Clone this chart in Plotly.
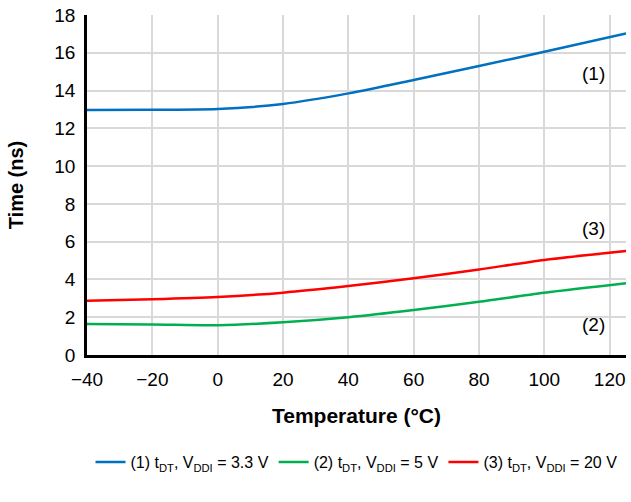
import plotly.graph_objects as go

temps = [-40, -20, 0, 20, 40, 60, 80, 100, 125]
t_33v = [12.97, 12.98, 13.02, 13.29, 13.85, 14.56, 15.3, 16.05, 17.02]
t_5v = [1.64, 1.62, 1.58, 1.73, 2.0, 2.38, 2.82, 3.3, 3.8]
t_20v = [2.87, 2.95, 3.07, 3.3, 3.65, 4.06, 4.53, 5.03, 5.5]

names = [
    "(1) t<sub>DT</sub>, V<sub>DDI</sub> = 3.3 V",
    "(2) t<sub>DT</sub>, V<sub>DDI</sub> = 5 V",
    "(3) t<sub>DT</sub>, V<sub>DDI</sub> = 20 V",
]
colors = ["#0070C0", "#00B050", "#FF0000"]
labels = ["(1)", "(2)", "(3)"]
label_x = [115, 115, 115]
label_y = [14.9, 1.6, 6.7]

fig = go.Figure()
for ys, nm, c in zip([t_33v, t_5v, t_20v], names, colors):
    fig.add_trace(go.Scatter(x=temps, y=ys, mode="lines", name=nm,
                             line=dict(color=c, width=2.5, shape="spline", smoothing=0.8)))

for lx, ly, lt in zip(label_x, label_y, labels):
    fig.add_annotation(x=lx, y=ly, text=lt, showarrow=False,
                       font=dict(size=19, color="#000"))

fig.update_layout(
    width=631, height=502,
    margin=dict(l=87, r=5, t=15, b=147),
    plot_bgcolor="white", paper_bgcolor="white",
    font=dict(family="Arial, Liberation Sans, sans-serif", color="#000"),
    showlegend=True,
    legend=dict(orientation="h", x=0.5, xanchor="center", y=-0.265, yanchor="top",
                font=dict(size=16), itemwidth=30, tracegroupgap=0),
    xaxis=dict(range=[-40, 125], tickvals=[-40, -20, 0, 20, 40, 60, 80, 100, 120],
               showgrid=True, gridcolor="#d9d9d9", gridwidth=1.5,
               showline=True, linecolor="#000", linewidth=2.5,
               zeroline=False, ticks="", tickfont=dict(size=19), automargin=False,
               ticklabelstandoff=5,
               title=dict(text="<b>Temperature (°C)</b>", font=dict(size=21), standoff=20)),
    yaxis=dict(range=[0, 18], dtick=2,
               showgrid=True, gridcolor="#d9d9d9", gridwidth=1.5,
               showline=True, linecolor="#000", linewidth=2.5,
               zeroline=False, ticks="", tickfont=dict(size=19), automargin=False,
               ticklabelstandoff=5,
               title=dict(text="<b>Time (ns)</b>", font=dict(size=20), standoff=26)),
)

fig.write_html("out.html", config={"displayModeBar": False},
               post_script="document.body.style.margin='0';")
